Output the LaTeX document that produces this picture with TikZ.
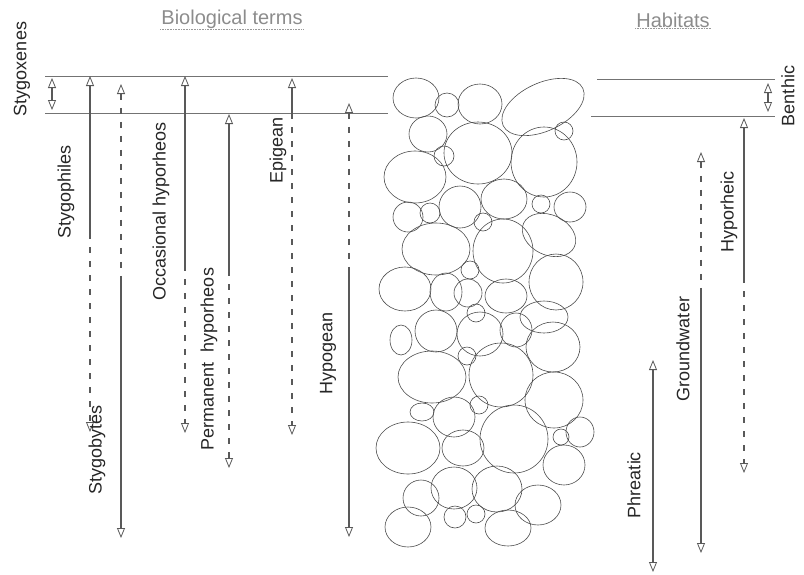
\documentclass[tikz,border=0pt]{standalone}
\usepackage{fontspec}
\setmainfont{Liberation Sans}
\usetikzlibrary{arrows.meta, positioning}

\begin{document}
\begin{tikzpicture} [x=1pt, y=-1pt,
            >={Triangle[open, length=10pt, width=8pt, line width=0.8pt]},
            term/.style = {rotate=90, inner sep=0pt, text=black!85,
                font=\fontsize{18}{18}\selectfont},
            heading/.style = {inner sep=1pt, text=black!45,
                font=\fontsize{20}{20}\selectfont},
            underline/.style = {densely dotted, draw=black!40, line width=0.6pt},
            level/.style = {draw=black!55, line width=0.8pt},
            span/.style = {draw=black!65, line width=1.1pt},
            gap/.style = {span, dash pattern=on 6pt off 8pt},
            grain/.style = {draw=black!70, line width=0.6pt}]

        \useasboundingbox (0,0) rectangle (804,574);

        % Headings
        \node (bio) [heading] at (232,19) {Biological terms};
        \node (hab) [heading] at (673,20) {Habitats};
        \draw [underline] (bio.south west) -- (bio.south east);
        \draw [underline] (hab.south west) -- (hab.south east);

        % Surface layer, left
        \coordinate (top-w) at (45,76);
        \coordinate (top-e) at (388,76);
        \coordinate (bed-w) at (45,113);
        \coordinate (bed-e) at (388,113);
        \draw [level] (top-w) -- (top-e);
        \draw [level] (bed-w) -- (bed-e);

        % Surface layer, right
        \coordinate (rtop-w) at (597,79);
        \coordinate (rtop-e) at (775,79);
        \coordinate (rbed-w) at (591,116);
        \coordinate (rbed-e) at (775,116);
        \draw [level] (rtop-w) -- (rtop-e);
        \draw [level] (rbed-w) -- (rbed-e);

        % Stygoxenes
        \node (xen) [term] at (22,69) {Stygoxenes};
        \coordinate (xen-t) at (52,78);
        \coordinate (xen-b) at (52,110);
        \draw [span, <->] (xen-t) -- (xen-b);

        % Stygophiles
        \node (phil) [term] at (66,192) {Stygophiles};
        \coordinate (phil-t) at (90,76);
        \coordinate (phil-m) at (90,233);
        \coordinate (phil-b) at (90,432);
        \draw [span, <-] (phil-t) -- (phil-m);
        \draw [gap, ->] (phil-m) -- (phil-b);

        % Stygobytes
        \node (byte) [term] at (97,450) {Stygobytes};
        \coordinate (byte-t) at (121,84);
        \coordinate (byte-m) at (121,277);
        \coordinate (byte-b) at (121,538);
        \draw [gap, <-] (byte-t) -- (byte-m);
        \draw [span, ->] (byte-m) -- (byte-b);

        % Occasional hyporheos
        \node (occ) [term] at (161,211) {Occasional hyporheos};
        \coordinate (occ-t) at (185,76);
        \coordinate (occ-m) at (185,265);
        \coordinate (occ-b) at (185,433);
        \draw [span, <-] (occ-t) -- (occ-m);
        \draw [gap, ->] (occ-m) -- (occ-b);

        % Permanent hyporheos
        \node (perm) [term] at (209,359) {Permanent\ \ hyporheos};
        \coordinate (perm-t) at (229,114);
        \coordinate (perm-m) at (229,270);
        \coordinate (perm-b) at (229,468);
        \draw [span, <-] (perm-t) -- (perm-m);
        \draw [gap, ->] (perm-m) -- (perm-b);

        % Epigean
        \node (epi) [term] at (278,150) {Epigean};
        \coordinate (epi-t) at (292,78);
        \coordinate (epi-m) at (292,113);
        \coordinate (epi-b) at (292,435);
        \draw [span, <-] (epi-t) -- (epi-m);
        \draw [gap, ->] (epi-m) -- (epi-b);

        % Hypogean
        \node (hypo) [term] at (328,353) {Hypogean};
        \coordinate (hypo-t) at (349,103);
        \coordinate (hypo-m) at (349,272);
        \coordinate (hypo-b) at (349,537);
        \draw [gap, <-] (hypo-t) -- (hypo-m);
        \draw [span, ->] (hypo-m) -- (hypo-b);

        % Benthic
        \node (ben) [term] at (788,96) {Benthic};
        \coordinate (ben-t) at (768,83);
        \coordinate (ben-b) at (768,112);
        \draw [span, <->] (ben-t) -- (ben-b);

        % Hyporheic
        \node (hpr) [term] at (729,212) {Hyporheic};
        \coordinate (hpr-t) at (744,118);
        \coordinate (hpr-m) at (744,277);
        \coordinate (hpr-b) at (744,473);
        \draw [span, <-] (hpr-t) -- (hpr-m);
        \draw [gap, ->] (hpr-m) -- (hpr-b);

        % Groundwater
        \node (gw) [term] at (683,349) {Groundwater};
        \coordinate (gw-t) at (701,152);
        \coordinate (gw-m) at (701,293);
        \coordinate (gw-b) at (701,553);
        \draw [gap, <-] (gw-t) -- (gw-m);
        \draw [span, ->] (gw-m) -- (gw-b);

        % Phreatic
        \node (phr) [term] at (634,485) {Phreatic};
        \coordinate (phr-t) at (653,360);
        \coordinate (phr-b) at (653,572);
        \draw [span, <->] (phr-t) -- (phr-b);

        % Sediment grains: x/y/x radius/y radius/tilt
        \foreach \gx/\gy/\ga/\gb/\gr in {
            416/98/23/20/0, 447/105/12/12/0, 480/104/22/20/0,
            543/107/44/24/25, 564/131/9/9/0, 428/134/19/18/0,
            478/153/34/31/0, 444/156/10/10/0, 415/177/31/26/0,
            544/162/33/35/0, 408/217/15/15/0, 430/213/10/10/0,
            460/207/21/21/0, 504/199/23/20/0, 541/204/9/9/0,
            570/207/16/15/0, 483/222/9/9/0, 436/249/34/26/0,
            503/251/30/32/0, 549/235/28/20/-25, 556/282/27/28/0,
            470/270/9/9/0, 405/289/26/22/0, 446/292/16/19/0,
            468/293/14/14/0, 506/296/21/17/0, 476/313/9/9/0,
            544/317/24/16/0, 401/340/11/15/0, 436/331/21/21/0,
            480/334/23/22/0, 516/330/16/17/0, 553/347/27/25/0,
            467/356/9/9/0, 432/377/34/26/0, 501/375/32/32/0,
            554/400/29/28/0, 422/412/12/9/0, 479/405/9/9/0,
            454/417/21/20/0, 408/448/32/26/0, 463/448/21/18/0,
            514/439/34/34/0, 561/437/8/8/0, 580/432/14/15/0,
            564/465/21/20/0, 421/498/18/18/0, 454/488/23/21/0,
            497/489/25/23/0, 538/505/23/20/0, 408/527/23/20/0,
            455/517/11/11/0, 476/514/9/9/0, 508/528/23/18/0}
            \draw [grain, rotate around={\gr:(\gx,\gy)}]
                (\gx,\gy) ellipse [x radius=\ga, y radius=\gb];

\end{tikzpicture}
\end{document}
